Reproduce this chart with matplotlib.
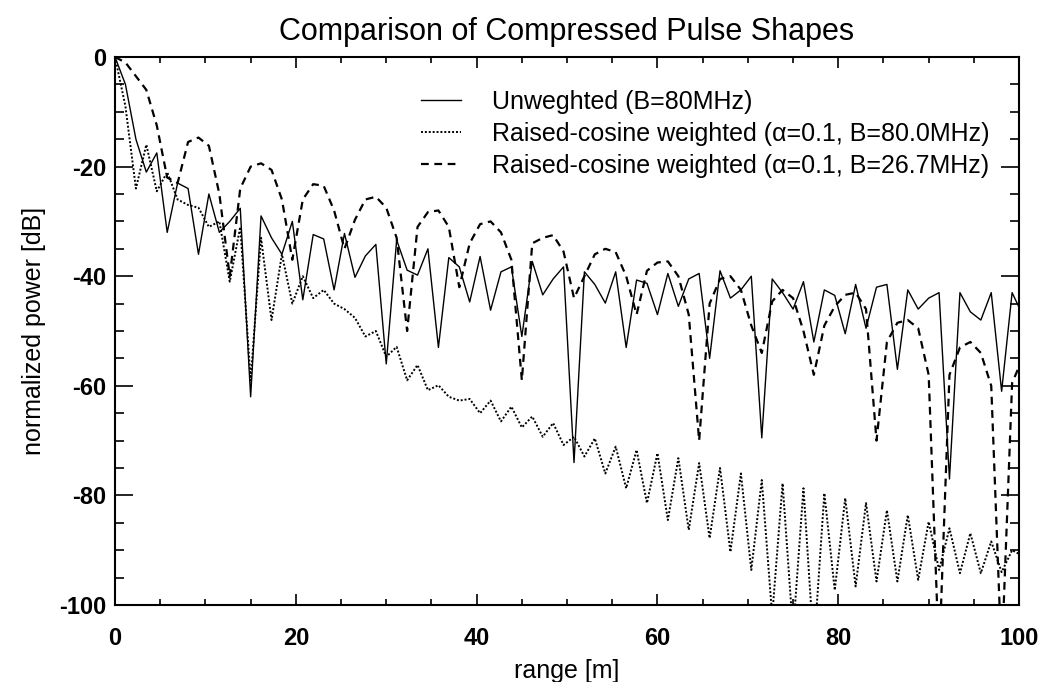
import numpy as np
import matplotlib
matplotlib.use('Agg')
import matplotlib.pyplot as plt
from matplotlib.ticker import MultipleLocator

plt.rcParams['font.family'] = ['Liberation Sans', 'DejaVu Sans']
plt.rcParams['axes.unicode_minus'] = False

# range samples [m]
rng = [0.00, 1.15, 2.31, 3.46, 4.62, 5.77, 6.92, 8.08, 9.23, 10.38,
       11.54, 12.69, 13.85, 15.00, 16.15, 17.31, 18.46, 19.61, 20.77, 21.92,
       23.08, 24.23, 25.38, 26.54, 27.69, 28.85, 30.00, 31.15, 32.31, 33.46,
       34.61, 35.77, 36.92, 38.08, 39.23, 40.38, 41.54, 42.69, 43.84, 45.00,
       46.15, 47.31, 48.46, 49.61, 50.77, 51.92, 53.07, 54.23, 55.38, 56.54,
       57.69, 58.84, 60.00, 61.15, 62.31, 63.46, 64.61, 65.77, 66.92, 68.07,
       69.23, 70.38, 71.54, 72.69, 73.84, 75.00, 76.15, 77.30, 78.46, 79.61,
       80.77, 81.92, 83.07, 84.23, 85.38, 86.54, 87.69, 88.84, 90.00, 91.15,
       92.30, 93.46, 94.61, 95.77, 96.92, 98.07, 99.23, 100.38]

# unweighted, B=80MHz
unweighted = [0, -5, -15, -21, -17.5, -32, -23, -24, -36, -25,
              -32, -30, -27.6, -62, -29, -33, -36, -30, -44.3, -32.4,
              -33.2, -42.5, -32.2, -40.2, -36.3, -34.2, -56, -33.4, -38.9, -39.8,
              -35, -53, -36.6, -38.3, -44.7, -36.4, -46.2, -39.2, -38.3, -51,
              -37.3, -43.4, -40.5, -38.3, -74, -39.2, -41.5, -44.9, -39.2, -53,
              -40.7, -41.3, -47, -39.5, -45.5, -40.5, -39.5, -55, -39, -44,
              -42.5, -40, -69.5, -40.5, -43, -46, -41, -52, -42.5, -43.5,
              -50.5, -41.5, -49.5, -42, -41.5, -57, -42.5, -46, -44, -43,
              -77, -43, -46.5, -48, -43, -61, -43, -47]

# raised cosine, B=80MHz
rc_80 = [0, -9, -24, -16, -24.5, -21, -26, -27, -27.5, -31,
         -30, -41, -31, -59, -33, -48, -36, -45, -40, -44,
         -42.5, -45, -46, -47.6, -51, -50, -54.7, -52.9, -59, -56.2,
         -60.8, -59.9, -62, -62.7, -62.4, -65, -62.7, -66.5, -63.8, -67.6,
         -65.6, -69.3, -66.8, -70.8, -69.3, -72.9, -69.6, -76, -71.1, -78.7,
         -71.7, -81.4, -72.3, -84.5, -73.2, -86.3, -74.1, -87.8, -75, -90.3,
         -76, -93.6, -77.2, -102, -77.8, -105, -78.7, -108, -79.6, -97.3,
         -80.5, -96.6, -81.4, -95.7, -82.7, -95.7, -83.6, -95.4, -84.8, -93.6,
         -86, -94.2, -86.9, -94.2, -88.4, -94, -90, -91]

# raised cosine, B=26.7MHz
rc_27 = [0, -1, -3.5, -6, -12.5, -22, -23, -15.5, -14.7, -16.2,
         -25, -40, -24, -20, -19.4, -20.6, -26, -37, -26, -23.2,
         -23.5, -28, -35, -29.7, -26, -25.5, -27.5, -33, -50, -31,
         -28.3, -28, -31, -42, -34, -30.5, -30, -32, -37, -59,
         -34, -33, -32.5, -35.5, -44, -40, -36, -35, -35.6, -40,
         -47, -39, -37.5, -37.3, -40, -47, -70, -45, -40.5, -40,
         -42.5, -49, -54, -44.6, -42.5, -44, -50, -58, -49, -45.5,
         -43.4, -43, -46, -70, -52, -48.5, -48, -49.5, -58, -110,
         -58, -53, -52, -54, -60, -110, -59.5, -55]

labels = ['Unweghted (B=80MHz)',
          'Raised-cosine weighted (\u03b1=0.1, B=80.0MHz)',
          'Raised-cosine weighted (\u03b1=0.1, B=26.7MHz)']

fig = plt.figure(figsize=(10.42, 6.82), dpi=100)
ax = fig.add_axes([0.1104, 0.1129, 0.8676, 0.8035])

ax.plot(rng, unweighted, color='black', lw=1.0, label=labels[0])
ax.plot(rng, rc_80, color='black', lw=1.4, linestyle=(0, (1, 1)), label=labels[1])
ax.plot(rng, rc_27, color='black', lw=1.6, linestyle=(0, (3.5, 2.5)), label=labels[2])

ax.set_xlim(0, 100)
ax.set_ylim(-100, 0)
ax.xaxis.set_major_locator(MultipleLocator(20))
ax.xaxis.set_minor_locator(MultipleLocator(5))
ax.yaxis.set_major_locator(MultipleLocator(20))
ax.yaxis.set_minor_locator(MultipleLocator(5))

ax.tick_params(axis='both', which='both', direction='in', top=True, right=True, width=1.2)
ax.tick_params(axis='x', which='major', length=8, pad=16)
ax.tick_params(axis='x', which='minor', length=4)
ax.tick_params(axis='y', which='major', length=13, pad=6)
ax.tick_params(axis='y', which='minor', length=6.5)
for lab in ax.get_xticklabels() + ax.get_yticklabels():
    lab.set_fontsize(17)
    lab.set_fontweight('bold')
for sp in ax.spines.values():
    sp.set_linewidth(1.5)

ax.set_title('Comparison of Compressed Pulse Shapes', fontsize=22, pad=12)
ax.set_xlabel('range [m]', fontsize=18, labelpad=6)
ax.set_ylabel('normalized power [dB]', fontsize=18, labelpad=10)

ax.legend(loc='upper left', bbox_to_anchor=(0.3385, 0.94), frameon=False,
          fontsize=18, handlelength=1.6, handletextpad=1.25, labelspacing=0.32,
          borderpad=0, borderaxespad=0)

fig.savefig('out.png', dpi=100)
